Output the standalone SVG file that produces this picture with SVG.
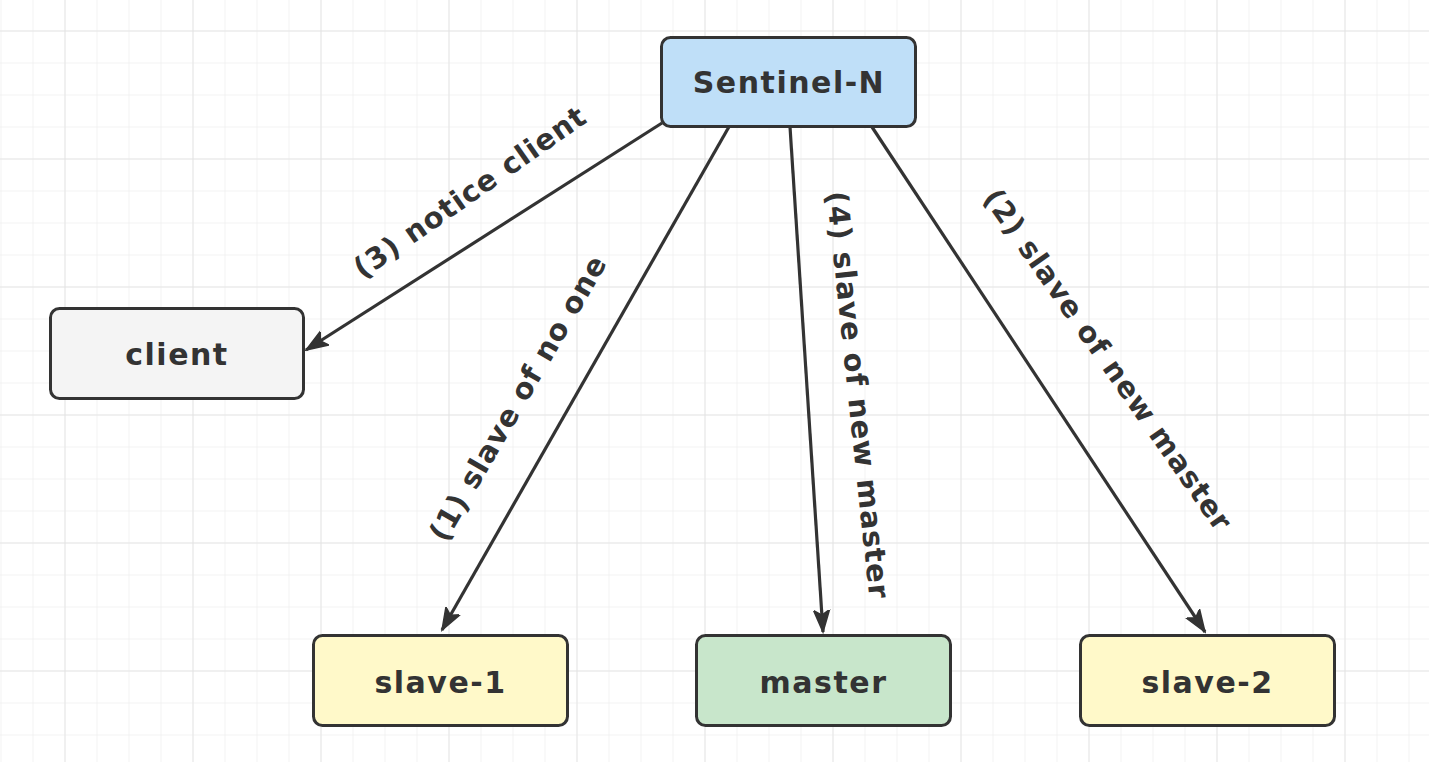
<svg xmlns="http://www.w3.org/2000/svg" width="1429" height="762" viewBox="0 0 1429 762">
<style>
.node rect{stroke:#333;stroke-width:3}
.lbl{font-family:"DejaVu Sans","Open Sans",sans-serif;font-weight:700;font-size:29px;letter-spacing:1px;fill:#333;text-anchor:middle;dominant-baseline:central}
.big{font-size:30px;letter-spacing:1.5px}
.edge{stroke:#333;stroke-width:3.2;fill:none;marker-end:url(#arr)}
</style>
<defs>
<pattern id="minor" x="0.5" y="-1.5" width="32" height="32" patternUnits="userSpaceOnUse">
<path d="M0 0H32M0 0V32" fill="none" stroke="#efefef" stroke-width="1.5"/>
</pattern>
<pattern id="major" x="64.5" y="30.5" width="128" height="128" patternUnits="userSpaceOnUse">
<path d="M0 0H128M0 0V128" fill="none" stroke="#e2e2e2" stroke-width="1.5"/>
</pattern>
<marker id="arr" markerUnits="userSpaceOnUse" markerWidth="24" markerHeight="20" viewBox="0 0 24 20" refX="22" refY="10" orient="auto">
<path d="M0 2 L22 10 L0 18 L5 10 Z" fill="#333" stroke="#333" stroke-width="1.5" stroke-linejoin="miter"/>
</marker>
</defs>
<rect width="1429" height="762" fill="#fff"/>
<rect width="1429" height="762" fill="url(#minor)"/>
<rect width="1429" height="762" fill="url(#major)"/>
<g id="connectors">
<path class="edge" d="M662 123 L306 350"/>
<path class="edge" d="M730 125 L442 630"/>
<path class="edge" d="M790 127 L823 632"/>
<path class="edge" d="M872 127 L1205 632"/>
<text class="lbl" transform="translate(470 192) rotate(-35)">(3) notice client</text>
<text class="lbl" transform="translate(518 398) rotate(-60)">(1) slave of no one</text>
<text class="lbl" transform="translate(858 395) rotate(84)">(4) slave of new master</text>
<text class="lbl" transform="translate(1108 360) rotate(55)">(2) slave of new master</text>
</g>
<g id="sentinel" class="node"><rect x="661.5" y="37.5" width="254" height="89" rx="9" fill="#bfdff8"/><text class="lbl big" x="789" y="82">Sentinel-N</text></g>
<g id="client" class="node"><rect x="50.5" y="308.5" width="253" height="90" rx="9" fill="#f4f4f4"/><text class="lbl big" x="177" y="354">client</text></g>
<g id="slave1" class="node"><rect x="313.5" y="635.5" width="254" height="90" rx="9" fill="#fff9c9"/><text class="lbl big" x="440.5" y="682">slave-1</text></g>
<g id="master" class="node"><rect x="696.5" y="635.5" width="254" height="90" rx="9" fill="#c8e6cb"/><text class="lbl big" x="823.5" y="682">master</text></g>
<g id="slave2" class="node"><rect x="1080.5" y="635.5" width="254" height="90" rx="9" fill="#fff9c9"/><text class="lbl big" x="1207.5" y="682">slave-2</text></g>
</svg>
